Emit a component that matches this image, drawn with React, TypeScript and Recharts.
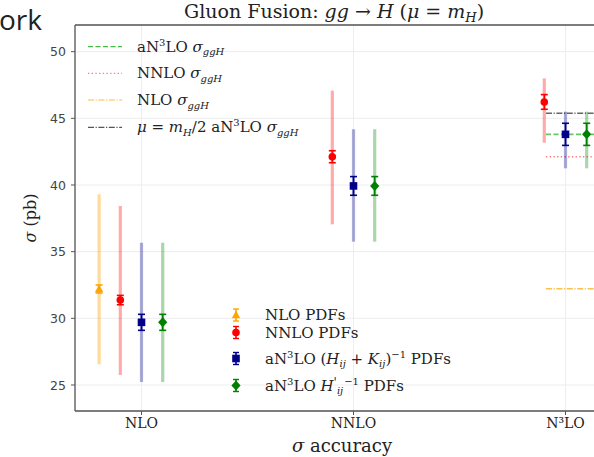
import React from 'react';
import {
  ComposedChart,
  Scatter,
  XAxis,
  YAxis,
  CartesianGrid,
  ErrorBar,
  ReferenceLine,
} from 'recharts';

// ---------- data ----------
const categories = ['NLO', 'NNLO', 'N³LO'];
const yTicks = [25, 30, 35, 40, 45, 50];

// NLO PDFs (orange)
const nloPdfCentral = [32.2, null, null];
const nloPdfErr = [0.3, null, null];
const nloPdfScaleLow = [26.55, null, null];
const nloPdfScaleHigh = [39.3, null, null];

// NNLO PDFs (red)
const nnloPdfCentral = [31.37, 42.12, 46.23];
const nnloPdfErr = [0.35, 0.45, 0.55];
const nnloPdfScaleLow = [25.75, 37.05, 43.17];
const nnloPdfScaleHigh = [38.43, 47.08, 48.0];

// aN3LO (H+K)^-1 PDFs (blue)
const hkPdfCentral = [29.7, 39.93, 43.8];
const hkPdfErr = [0.6, 0.7, 0.83];
const hkPdfScaleLow = [25.22, 35.75, 41.25];
const hkPdfScaleHigh = [35.67, 44.18, 45.5];

// aN3LO H'^-1 PDFs (green)
const hpPdfCentral = [29.7, 39.93, 43.8];
const hpPdfErr = [0.6, 0.7, 0.83];
const hpPdfScaleLow = [25.22, 35.75, 41.25];
const hpPdfScaleHigh = [35.67, 44.18, 45.5];

// reference cross sections (horizontal lines at N3LO)
const refLabels = ['aN3LO', 'NNLO', 'NLO', 'muHalf'];
const refValues = [43.8, 42.12, 32.22, 45.38];

// ---------- styles / layout ----------
const X_MIN = -0.3137;
const X_MAX = 2.3137;
const Y_MIN = 23.05;
const Y_MAX = 52.0;
const REF_X_START = 1.908;

const SERIF = "'DejaVu Serif', serif";
const SANS = "'DejaVu Sans', sans-serif";
const LFS = 15;
const SMALL = 10;

type Pt = { x: number; y: number; pdfErr: number; scaleErr: [number, number] };

function buildSeries(
  central: (number | null)[],
  err: (number | null)[],
  low: (number | null)[],
  high: (number | null)[],
  offset: number
): Pt[] {
  const out: Pt[] = [];
  central.forEach((c, i) => {
    if (c === null) return;
    out.push({
      x: i + offset,
      y: c,
      pdfErr: err[i] as number,
      scaleErr: [c - (low[i] as number), (high[i] as number) - c],
    });
  });
  return out;
}

const seriesDefs = [
  {
    name: 'NLO PDFs',
    data: buildSeries(nloPdfCentral, nloPdfErr, nloPdfScaleLow, nloPdfScaleHigh, -0.2),
    color: '#FFA500',
    light: 'rgba(255,165,0,0.4)',
    shape: 'triangle',
  },
  {
    name: 'NNLO PDFs',
    data: buildSeries(nnloPdfCentral, nnloPdfErr, nnloPdfScaleLow, nnloPdfScaleHigh, -0.1),
    color: '#FF0000',
    light: 'rgba(255,0,0,0.33)',
    shape: 'circle',
  },
  {
    name: 'HK',
    data: buildSeries(hkPdfCentral, hkPdfErr, hkPdfScaleLow, hkPdfScaleHigh, 0),
    color: '#00008B',
    light: 'rgba(0,0,139,0.33)',
    shape: 'square',
  },
  {
    name: 'HP',
    data: buildSeries(hpPdfCentral, hpPdfErr, hpPdfScaleLow, hpPdfScaleHigh, 0.1),
    color: '#008000',
    light: 'rgba(0,128,0,0.33)',
    shape: 'diamond',
  },
];

const refStyles = [
  { stroke: 'rgba(0,160,0,0.6)', dash: '5 2.5', legend: '#44bb44' },
  { stroke: 'rgba(255,0,0,0.55)', dash: '1.3 2.4', legend: '#ff7777' },
  { stroke: 'rgba(255,165,0,0.7)', dash: '6 1.6 1.2 1.6', legend: '#ffbb44' },
  { stroke: 'rgba(0,0,0,0.6)', dash: '6 1.6 1.2 1.6', legend: '#555555' },
];

function Marker({ cx, cy, shape, color }: { cx: number; cy: number; shape: string; color: string }) {
  if (cx == null || cy == null) return null;
  if (shape === 'triangle') {
    return <polygon points={`${cx},${cy - 4.6} ${cx - 4.2},${cy + 3.2} ${cx + 4.2},${cy + 3.2}`} fill={color} />;
  }
  if (shape === 'circle') {
    return <circle cx={cx} cy={cy} r={3.8} fill={color} />;
  }
  if (shape === 'square') {
    return <rect x={cx - 3.8} y={cy - 3.8} width={7.6} height={7.6} fill={color} />;
  }
  return <polygon points={`${cx},${cy - 5} ${cx + 4.6},${cy} ${cx},${cy + 5} ${cx - 4.6},${cy}`} fill={color} />;
}

const XTick = (props: any) => {
  const { x, payload } = props;
  return (
    <text x={x} y={428} textAnchor="middle" fontFamily={SERIF} fontSize={14} fill="#222">
      {categories[payload.value]}
    </text>
  );
};

const YTick = (props: any) => {
  const { y, payload } = props;
  return (
    <text x={66} y={y + 4.5} textAnchor="end" fontFamily={SANS} fontSize={12.5} fill="#444">
      {payload.value}
    </text>
  );
};

function SigmaGgH() {
  return (
    <>
      <tspan fontStyle="italic">σ</tspan>
      <tspan fontSize={SMALL} dy={3.5} fontStyle="italic">ggH</tspan>
      <tspan dy={-3.5}>{''}</tspan>
    </>
  );
}

function Sup3() {
  return (
    <>
      <tspan>aN</tspan>
      <tspan fontSize={SMALL} dy={-6}>3</tspan>
      <tspan dy={6}>LO</tspan>
    </>
  );
}

function LegendLineText({ idx }: { idx: number }) {
  if (idx === 0)
    return (
      <>
        <Sup3 />
        <tspan> </tspan>
        <SigmaGgH />
      </>
    );
  if (idx === 1)
    return (
      <>
        <tspan>NNLO </tspan>
        <SigmaGgH />
      </>
    );
  if (idx === 2)
    return (
      <>
        <tspan>NLO </tspan>
        <SigmaGgH />
      </>
    );
  return (
    <>
      <tspan fontStyle="italic">μ</tspan>
      <tspan> = </tspan>
      <tspan fontStyle="italic">m</tspan>
      <tspan fontSize={SMALL} dy={3.5} fontStyle="italic">H</tspan>
      <tspan dy={-3.5}>/2 </tspan>
      <Sup3 />
      <tspan> </tspan>
      <SigmaGgH />
    </>
  );
}

function LegendMarkerText({ idx }: { idx: number }) {
  if (idx === 0) return <tspan>NLO PDFs</tspan>;
  if (idx === 1) return <tspan>NNLO PDFs</tspan>;
  if (idx === 2)
    return (
      <>
        <Sup3 />
        <tspan> (</tspan>
        <tspan fontStyle="italic">H</tspan>
        <tspan fontSize={SMALL} dy={3.5} fontStyle="italic">ij</tspan>
        <tspan dy={-3.5}> + </tspan>
        <tspan fontStyle="italic">K</tspan>
        <tspan fontSize={SMALL} dy={3.5} fontStyle="italic">ij</tspan>
        <tspan dy={-3.5}>)</tspan>
        <tspan fontSize={SMALL} dy={-6}>−1</tspan>
        <tspan dy={6}> PDFs</tspan>
      </>
    );
  return (
    <>
      <Sup3 />
      <tspan> </tspan>
      <tspan fontStyle="italic">H</tspan>
      <tspan fontSize={12} dy={-4}>'</tspan>
      <tspan fontSize={SMALL} dy={7.5} fontStyle="italic">ij</tspan>
      <tspan fontSize={SMALL} dy={-9.5} dx={1}>−1</tspan>
      <tspan dy={6}> PDFs</tspan>
    </>
  );
}

export default function App() {
  const legendLineY = [46.7, 73.3, 100, 127.3];
  const legendMarkerY = [315, 332.5, 358.5, 385.5];
  return (
    <div
      style={{
        position: 'fixed',
        left: 0,
        top: 0,
        width: 594,
        height: 457,
        overflow: 'hidden',
        background: '#fff',
      }}
    >
      <div style={{ position: 'absolute', left: 0, top: 0 }}>
        <ComposedChart
          width={640}
          height={457}
          margin={{ top: 25, right: 8, left: 30, bottom: 16 }}
        >
          <CartesianGrid stroke="#ededed" strokeWidth={1} />
          <XAxis
            dataKey="x"
            type="number"
            domain={[X_MIN, X_MAX]}
            ticks={[0, 1, 2]}
            allowDataOverflow
            height={30}
            tick={<XTick />}
            tickSize={4}
            axisLine={{ stroke: '#555', strokeWidth: 1.3 }}
            tickLine={{ stroke: '#555' }}
          />
          <YAxis
            type="number"
            domain={[Y_MIN, Y_MAX]}
            ticks={yTicks}
            allowDataOverflow
            width={45}
            tick={<YTick />}
            tickSize={4}
            axisLine={{ stroke: '#555', strokeWidth: 1.3 }}
            tickLine={{ stroke: '#555' }}
          />
          <ReferenceLine y={Y_MAX} stroke="#555" strokeWidth={1.3} ifOverflow="extendDomain" />
          {refValues.map((v, i) => (
            <ReferenceLine
              key={refLabels[i]}
              segment={[
                { x: REF_X_START, y: v },
                { x: X_MAX, y: v },
              ]}
              stroke={refStyles[i].stroke}
              strokeWidth={1.6}
              strokeDasharray={refStyles[i].dash}
            />
          ))}
          {seriesDefs.map((s) => (
            <Scatter
              key={s.name}
              name={s.name}
              data={s.data}
              dataKey="y"
              isAnimationActive={false}
              shape={(p: any) => <Marker cx={p.cx} cy={p.cy} shape={s.shape} color={s.color} />}
            >
              <ErrorBar dataKey="scaleErr" direction="y" width={0} stroke={s.light} strokeWidth={3.2} />
              <ErrorBar dataKey="pdfErr" direction="y" width={3.5} stroke={s.color} strokeWidth={1.6} />
            </Scatter>
          ))}
        </ComposedChart>
      </div>
      <svg
        width={594}
        height={457}
        style={{ position: 'absolute', left: 0, top: 0, pointerEvents: 'none' }}
      >
        <text x={-1} y={30} fontFamily="'Open Sans', sans-serif" fontSize={28} fill="#222">
          ork
        </text>
        <text x={184} y={18} fontFamily={SERIF} fontSize={19} fill="#222">
          <tspan>Gluon Fusion: </tspan>
          <tspan fontStyle="italic">gg</tspan>
          <tspan> → </tspan>
          <tspan fontStyle="italic">H</tspan>
          <tspan> (</tspan>
          <tspan fontStyle="italic">μ</tspan>
          <tspan> = </tspan>
          <tspan fontStyle="italic">m</tspan>
          <tspan fontSize={13} dy={3.5} fontStyle="italic">H</tspan>
          <tspan dy={-3.5}>)</tspan>
        </text>
        <text
          transform="translate(36,218) rotate(-90)"
          textAnchor="middle"
          fontFamily={SERIF}
          fontSize={16}
          fill="#222"
        >
          <tspan fontStyle="italic">σ</tspan>
          <tspan> (pb)</tspan>
        </text>
        <text x={342} y={452} textAnchor="middle" fontFamily={SERIF} fontSize={18} fill="#222">
          <tspan fontStyle="italic">σ</tspan>
          <tspan> accuracy</tspan>
        </text>
        {legendLineY.map((y, i) => (
          <g key={refLabels[i]}>
            <line
              x1={88}
              x2={122}
              y1={y}
              y2={y}
              stroke={refStyles[i].legend}
              strokeWidth={1.2}
              strokeDasharray={refStyles[i].dash}
            />
            <text x={137} y={y + 5} fontFamily={SERIF} fontSize={LFS} fill="#222">
              <LegendLineText idx={i} />
            </text>
          </g>
        ))}
        {legendMarkerY.map((y, i) => (
          <g key={seriesDefs[i].name}>
            <line x1={236} x2={236} y1={y - 6} y2={y + 6} stroke={seriesDefs[i].color} strokeWidth={1.6} />
            <line x1={233} x2={239} y1={y - 6} y2={y - 6} stroke={seriesDefs[i].color} strokeWidth={1.4} />
            <line x1={233} x2={239} y1={y + 6} y2={y + 6} stroke={seriesDefs[i].color} strokeWidth={1.4} />
            <Marker cx={236} cy={y} shape={seriesDefs[i].shape} color={seriesDefs[i].color} />
            <text x={265} y={y + 5} fontFamily={SERIF} fontSize={LFS} fill="#222">
              <LegendMarkerText idx={i} />
            </text>
          </g>
        ))}
      </svg>
    </div>
  );
}
